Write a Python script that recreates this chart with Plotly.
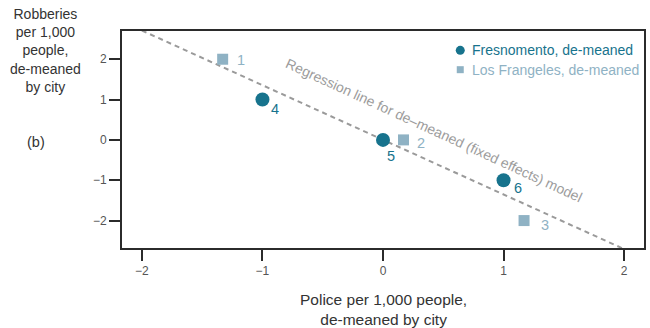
import numpy as np
import plotly.graph_objects as go

# Data
fres_x = [-1.0, 0.0, 1.0]
fres_y = [1.0, 0.0, -1.0]
fres_labels = ["4", "5", "6"]

la_x = [-1.33, 0.17, 1.17]
la_y = [2.0, 0.0, -2.0]
la_labels = ["1", "2", "3"]

x_ticks = [-2, -1, 0, 1, 2]
y_ticks = [-2, -1, 0, 1, 2]

series_names = ["Fresnomento, de-meaned", "Los Frangeles, de-meaned"]

FRES_C = "#17738d"
LA_C = "#8fb2c4"
FONT = "Liberation Sans, Arial, Helvetica, sans-serif"

# regression on pooled de-meaned data
all_x = np.array(fres_x + la_x)
all_y = np.array(fres_y + la_y)
slope, intercept = np.polyfit(all_x, all_y, 1)
line_x = np.array([-2.0, 2.0])
line_y = slope * line_x + intercept

fig = go.Figure()
fig.add_trace(go.Scatter(x=line_x, y=line_y, mode="lines",
                         line=dict(color="#9a9a9a", width=2, dash="5px,4px"),
                         showlegend=False, hoverinfo="skip"))
fig.add_trace(go.Scatter(x=la_x, y=la_y, mode="markers", name=series_names[1],
                         marker=dict(symbol="square", size=11, color=LA_C),
                         showlegend=False))
fig.add_trace(go.Scatter(x=fres_x, y=fres_y, mode="markers", name=series_names[0],
                         marker=dict(symbol="circle", size=14, color=FRES_C),
                         showlegend=False))

# point labels (pixel offsets are styling)
fres_off = [(13, -9), (8, -16), (14, -8)]
la_off = [(18, -1), (18, -3), (21, -4)]
for xs, ys, labs, offs, col in [(fres_x, fres_y, fres_labels, fres_off, FRES_C),
                                (la_x, la_y, la_labels, la_off, LA_C)]:
    for xv, yv, lab, (dx, dy) in zip(xs, ys, labs, offs):
        fig.add_annotation(x=xv, y=yv, text=lab, showarrow=False,
                           xshift=dx, yshift=dy,
                           font=dict(size=14.5, color=col, family=FONT))

fig.add_annotation(x=0.42, y=0.25, text="Regression line for de\u2013meaned (fixed effects) model",
                   textangle=24.7, showarrow=False,
                   font=dict(size=14, color="#9c9c9c", family=FONT))

# custom legend
fig.add_shape(type="circle", xref="paper", yref="paper",
              xsizemode="pixel", ysizemode="pixel",
              xanchor=0.648, yanchor=0.911, x0=-4.5, x1=4.5, y0=-4.5, y1=4.5,
              fillcolor=FRES_C, line=dict(width=0))
fig.add_shape(type="rect", xref="paper", yref="paper",
              xsizemode="pixel", ysizemode="pixel",
              xanchor=0.648, yanchor=0.8217, x0=-3.5, x1=3.5, y0=-3.5, y1=3.5,
              fillcolor=LA_C, line=dict(width=0))
fig.add_annotation(xref="paper", yref="paper", x=0.666, y=0.911, xanchor="left", yanchor="middle",
                   text=series_names[0], showarrow=False,
                   font=dict(size=14, color=FRES_C, family=FONT))
fig.add_annotation(xref="paper", yref="paper", x=0.666, y=0.8217, xanchor="left", yanchor="middle",
                   text=series_names[1], showarrow=False,
                   font=dict(size=14, color=LA_C, family=FONT))

# axis titles
fig.add_annotation(xref="paper", yref="paper", x=-0.147, y=0.908, xanchor="center", yanchor="middle",
                   text="Robberies<br>per 1,000<br>people,<br>de-meaned<br>by city",
                   showarrow=False, align="center",
                   font=dict(size=14, color="#333333", family=FONT))
fig.add_annotation(xref="paper", yref="y", x=-0.164, y=0.0, yshift=-2, xanchor="center",
                   text="(b)", showarrow=False,
                   font=dict(size=14.5, color="#333333", family=FONT))
fig.add_annotation(xref="paper", yref="paper", x=0.5, y=-0.283, xanchor="center", yanchor="middle",
                   text="Police per 1,000 people,<br>de-meaned by city",
                   showarrow=False, align="center",
                   font=dict(size=15.5, color="#333333", family=FONT))

axis_common = dict(showline=True, linewidth=2, linecolor="#2b2b2b", mirror=True,
                   ticks="outside", ticklen=11, tickwidth=2, tickcolor="#2b2b2b",
                   showgrid=False, zeroline=False,
                   tickfont=dict(size=12, color="#555555", family=FONT))

fig.update_layout(
    width=650, height=328,
    margin=dict(l=122, r=4, t=31, b=80),
    paper_bgcolor="white", plot_bgcolor="white",
    font=dict(family=FONT, color="#333333"),
    xaxis=dict(range=[-2.165, 2.165], tickvals=x_ticks, **axis_common),
    yaxis=dict(range=[-2.68, 2.70], tickvals=y_ticks, **axis_common),
    showlegend=False,
)

fig.write_html("out.html", config={"displayModeBar": False},
               post_script="document.body.style.margin='0px';document.body.style.overflow='hidden';")
